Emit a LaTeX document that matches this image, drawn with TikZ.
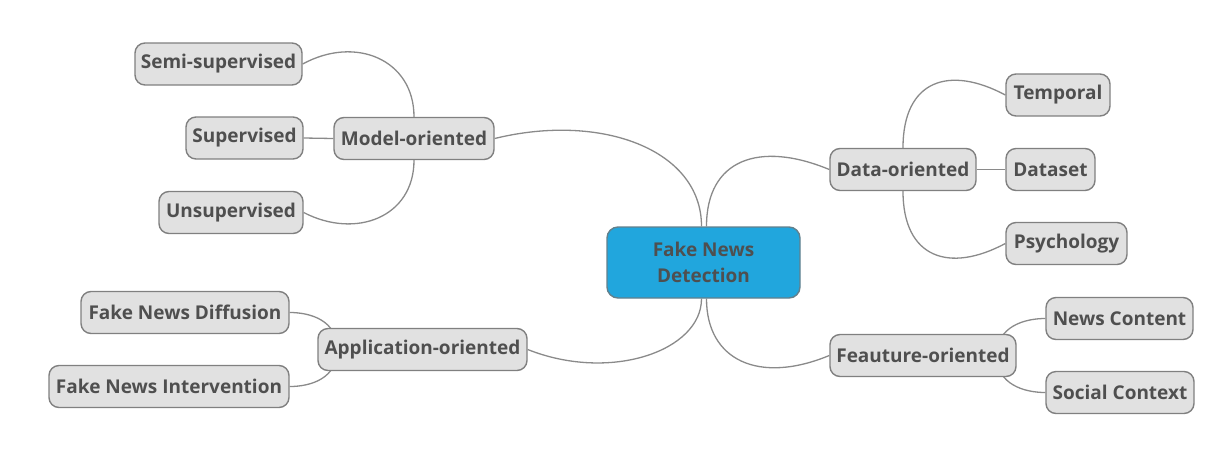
\documentclass[tikz,border=0pt]{standalone}
\usepackage{fontspec}
\setmainfont{Open Sans}
\usetikzlibrary{backgrounds}

\definecolor{topicfill}{HTML}{E1E1E1}
\definecolor{topicline}{HTML}{808080}
\definecolor{rootfill}{HTML}{21A6DD}
\definecolor{rootline}{HTML}{63808C}
\definecolor{labelgray}{HTML}{4F4F4F}
\definecolor{linkgray}{HTML}{8A8A8A}

\begin{document}
\begin{tikzpicture}[x=1pt,y=-1pt,
  topic/.style={draw=topicline, fill=topicfill, line width=1.4pt,
    rounded corners=10pt, minimum height=42pt, inner sep=0pt,
    text=labelgray, font=\fontsize{19}{22}\selectfont\bfseries},
  root/.style={draw=rootline, fill=rootfill, line width=1.4pt,
    rounded corners=11pt, minimum width=193pt, minimum height=71pt,
    inner sep=0pt, align=center, text=labelgray,
    font=\fontsize{19}{26}\selectfont\bfseries},
  link/.style={draw=linkgray, line width=1.3pt}]

\useasboundingbox (0,0) rectangle (1216,448);

% central topic
\node[root] (c) at (703.5,262.5) {Fake News\\Detection};

% main branches
\node[topic, minimum width=160pt] (model) at (414,138.5) {Model-oriented};
\node[topic, minimum width=209pt] (app) at (422.5,349.5) {Application-oriented};
\node[topic, minimum width=146pt] (data) at (903,169.5) {Data-oriented};
\node[topic, minimum width=186pt] (feat) at (923,355.5) {Feauture-oriented};

% model-oriented leaves
\node[topic, minimum width=167pt] (semi) at (218.5,64) {Semi-supervised};
\node[topic, minimum width=117pt] (sup) at (244.5,138) {Supervised};
\node[topic, minimum width=144pt] (unsup) at (231,212.5) {Unsupervised};

% application-oriented leaves
\node[topic, minimum width=208pt] (diff) at (185,312.5) {Fake News Diffusion};
\node[topic, minimum width=240pt] (inter) at (169,386.5) {Fake News Intervention};

% data-oriented leaves
\node[topic, minimum width=104pt] (temp) at (1058,95) {Temporal};
\node[topic, minimum width=89pt] (dset) at (1050.5,169.5) {Dataset};
\node[topic, minimum width=121pt] (psy) at (1066.5,243.5) {Psychology};

% feature-oriented leaves
\node[topic, minimum width=147pt] (news) at (1119.5,318.5) {News Content};
\node[topic, minimum width=148pt] (soc) at (1120,392.5) {Social Context};

\begin{pgfonlayer}{background}
  % root to branches
  \draw[link] ([xshift=-2pt]c.north) .. controls +(0,-77) and +(106,-26) .. (model.east);
  \draw[link] ([xshift=3pt]c.north) .. controls +(0,-67) and +(-70,-29) .. (data.west);
  \draw[link] ([xshift=-2pt]c.south) .. controls +(0,52) and +(83,33) .. (app.east);
  \draw[link] ([xshift=3pt]c.south) .. controls +(0,62) and +(-70,29) .. (feat.west);

  % model-oriented
  \draw[link] (model.north) .. controls +(0,-57) and +(53,-29) .. (semi.east);
  \draw[link] (model.west) -- (sup.east);
  \draw[link] (model.south) .. controls +(0,57) and +(52,27) .. (unsup.east);

  % application-oriented
  \draw[link] (diff.east) .. controls +(21,0) and +(0,-29) .. ([xshift=20pt]app.west);
  \draw[link] (inter.east) .. controls +(21,0) and +(0,29) .. ([xshift=20pt]app.west);

  % data-oriented
  \draw[link] (data.north) .. controls +(0,-68) and +(-56,-30) .. (temp.west);
  \draw[link] (data.east) -- (dset.west);
  \draw[link] (data.south) .. controls +(0,67) and +(-56,30) .. (psy.west);

  % feature-oriented
  \draw[link] ([xshift=-20pt]feat.east) .. controls +(0,-29) and +(-21,0) .. (news.west);
  \draw[link] ([xshift=-20pt]feat.east) .. controls +(0,29) and +(-21,0) .. (soc.west);
\end{pgfonlayer}
\end{tikzpicture}
\end{document}
